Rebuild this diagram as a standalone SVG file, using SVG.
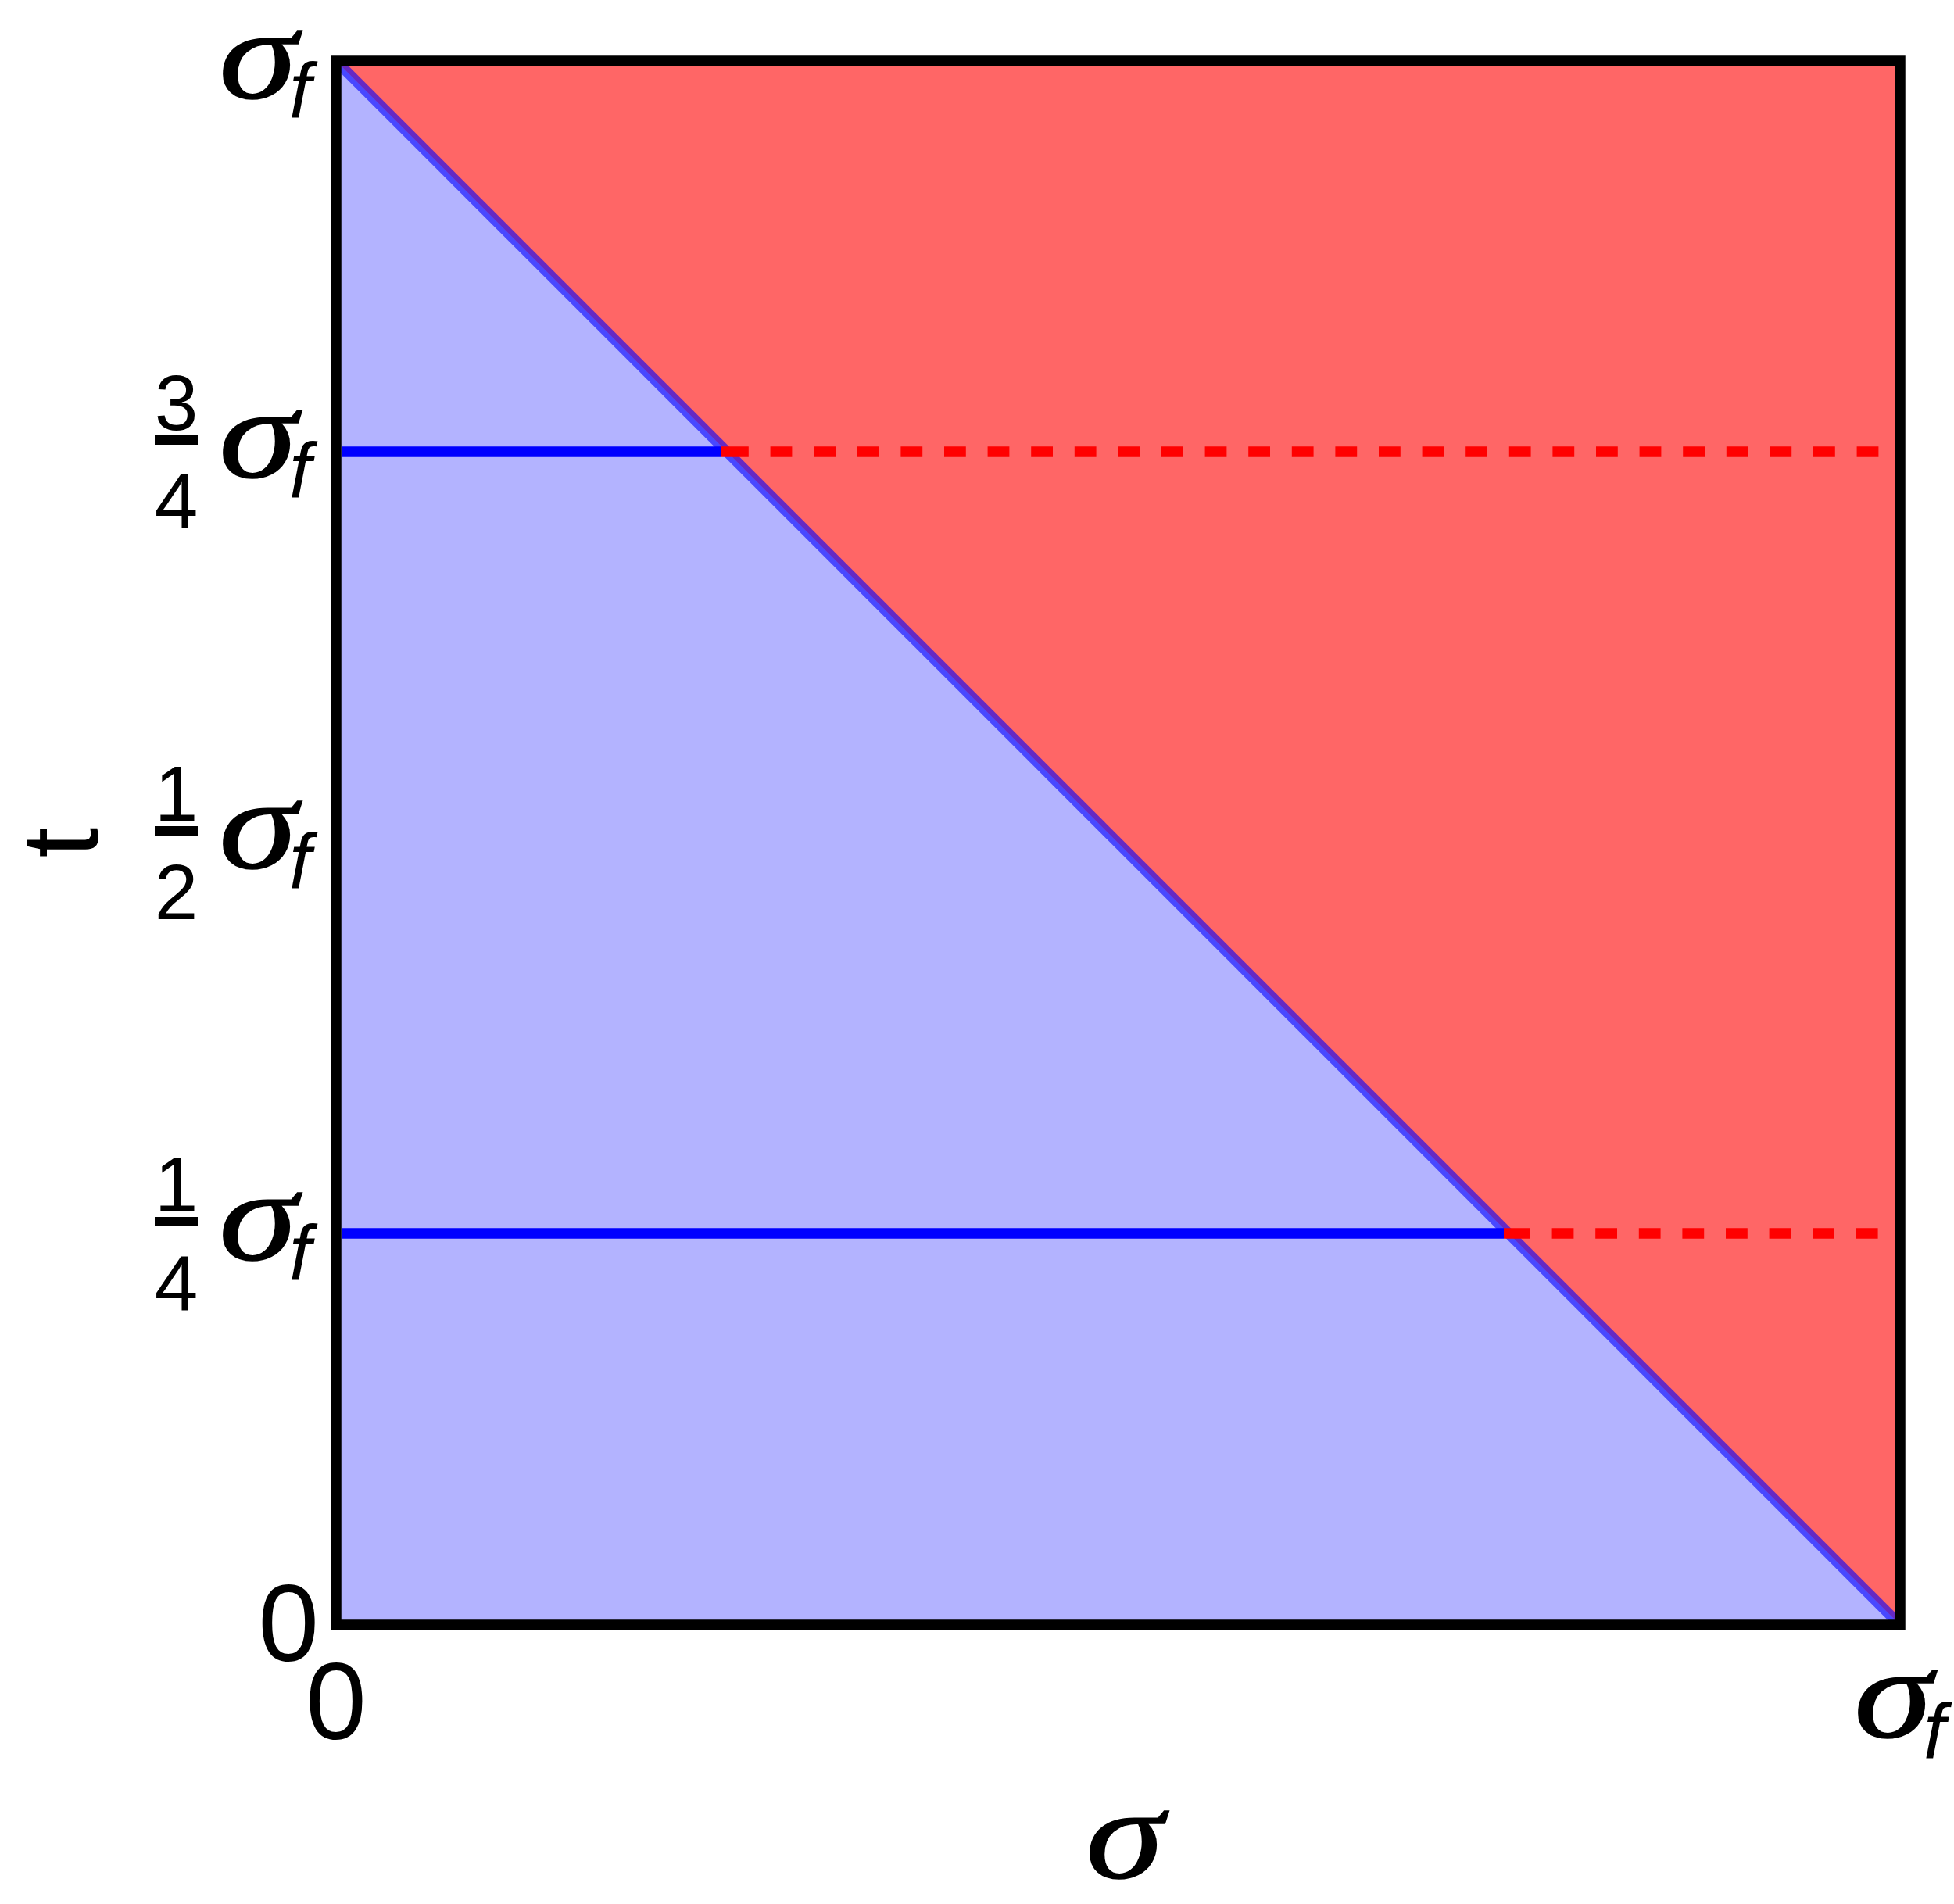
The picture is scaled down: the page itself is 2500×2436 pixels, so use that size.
<svg xmlns="http://www.w3.org/2000/svg" width="2500" height="2436" viewBox="0 0 2500 2436">
<style>
.sig{font-family:"Liberation Serif","DejaVu Serif",serif;font-style:italic;font-size:166px;fill:#000;stroke:#000;stroke-width:1.5}
.sub{font-family:"Liberation Sans","DejaVu Sans",sans-serif;font-style:italic;font-size:100px;fill:#000}
.num{font-family:"Liberation Sans","DejaVu Sans",sans-serif;font-size:100px;fill:#000}
.big{font-family:"Liberation Sans","DejaVu Sans",sans-serif;font-size:140px;fill:#000}
.solid{stroke:#0000ff;stroke-width:13.5;fill:none}
.dash{stroke:#ff0000;stroke-width:13.5;fill:none;stroke-dasharray:27.8 27.8}
.bar{fill:#000}
</style>
<rect width="2500" height="2436" fill="#ffffff"/>
<g id="regions">
<polygon points="430,78 430,2079 2431,2079" fill="#b3b3ff"/>
<polygon points="430,78 2431,78 2431,2079" fill="#ff6666"/>
</g>
<g id="connectors">
<line x1="430" y1="78" x2="2431" y2="2079" stroke="#0000ff" stroke-opacity="0.6" stroke-width="13.5"/>
<line class="solid" x1="437" y1="578" x2="923" y2="578"/>
<line x1="923" y1="578" x2="930" y2="578" stroke="#ff0000" stroke-width="13.5"/>
<line class="dash" x1="930" y1="578" x2="2425" y2="578"/>
<line class="solid" x1="437" y1="1578" x2="1924" y2="1578"/>
<line x1="1924" y1="1578" x2="1930" y2="1578" stroke="#ff0000" stroke-width="13.5"/>
<line class="dash" x1="1930" y1="1578" x2="2425" y2="1578"/>
</g>
<g id="frame">
<rect x="430" y="78" width="2001" height="2001" fill="none" stroke="#000" stroke-width="13.5"/>
</g>
<g id="ytick-top">
<text class="sig" transform="translate(280,125) scale(1.22,1)">σ</text>
<text class="sub" x="370" y="151">f</text>
</g>
<g id="ytick-34">
<text class="num" x="225.5" y="550" text-anchor="middle">3</text>
<rect class="bar" x="198" y="557" width="55" height="12"/>
<text class="num" x="225.5" y="676" text-anchor="middle">4</text>
<text class="sig" transform="translate(280,610) scale(1.22,1)">σ</text>
<text class="sub" x="370" y="637">f</text>
</g>
<g id="ytick-12">
<text class="num" x="225.5" y="1050" text-anchor="middle">1</text>
<rect class="bar" x="198" y="1057" width="55" height="12"/>
<text class="num" x="225.5" y="1176" text-anchor="middle">2</text>
<text class="sig" transform="translate(280,1110) scale(1.22,1)">σ</text>
<text class="sub" x="370" y="1137">f</text>
</g>
<g id="ytick-14">
<text class="num" x="225.5" y="1550" text-anchor="middle">1</text>
<rect class="bar" x="198" y="1557" width="55" height="12"/>
<text class="num" x="225.5" y="1677" text-anchor="middle">4</text>
<text class="sig" transform="translate(280,1611) scale(1.22,1)">σ</text>
<text class="sub" x="370" y="1638">f</text>
</g>
<g id="ytick-0">
<text class="big" x="408" y="2125" text-anchor="end">0</text>
</g>
<g id="xtick-0">
<text class="big" x="430" y="2225" text-anchor="middle">0</text>
</g>
<g id="xtick-1">
<text class="sig" transform="translate(2372,2222) scale(1.22,1)">σ</text>
<text class="sub" x="2461" y="2250">f</text>
</g>
<g id="xlabel">
<text class="sig" transform="translate(1389,2402) scale(1.22,1)">σ</text>
</g>
<g id="ylabel">
<text class="big" transform="translate(125,1078) rotate(-90)" text-anchor="middle">t</text>
</g>
</svg>
